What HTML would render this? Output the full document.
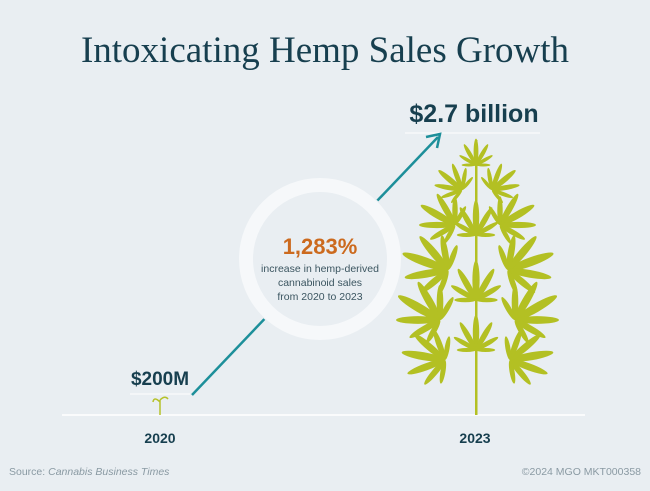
<!DOCTYPE html>
<html><head><style>
body{margin:0;width:650px;height:486px;background:#e9eef2;overflow:hidden;font-family:"Liberation Sans",sans-serif}
</style></head><body>
<svg width="650" height="486" xmlns="http://www.w3.org/2000/svg">
<defs>
<g id="lf">
<ellipse cx="0" cy="-22" rx="4" ry="22"/>
<ellipse cx="0" cy="-20" rx="3.5" ry="20" transform="rotate(-30)"/>
<ellipse cx="0" cy="-20" rx="3.5" ry="20" transform="rotate(30)"/>
<ellipse cx="0" cy="-16" rx="3" ry="16" transform="rotate(-60)"/>
<ellipse cx="0" cy="-16" rx="3" ry="16" transform="rotate(60)"/>
<ellipse cx="0" cy="-12" rx="2.5" ry="12" transform="rotate(-90)"/>
<ellipse cx="0" cy="-12" rx="2.5" ry="12" transform="rotate(90)"/>
</g>
</defs>
<rect width="650" height="486" fill="#e9eef2"/>
<text x="325" y="62" text-anchor="middle" font-family="Liberation Serif,serif" font-size="37" fill="#173f4f">Intoxicating Hemp Sales Growth</text>
<line x1="62" y1="415" x2="585" y2="415" stroke="#fff" stroke-width="1.5"/>
<line x1="130" y1="394" x2="190" y2="394" stroke="#fff" stroke-width="1"/>
<line x1="405" y1="133" x2="540" y2="133" stroke="#fff" stroke-width="1"/>
<line x1="192" y1="395" x2="438" y2="137" stroke="#1d8f9a" stroke-width="2.5"/>
<polyline points="426,137 440,134 437,148" fill="none" stroke="#1d8f9a" stroke-width="2.5"/>
<circle cx="320" cy="259" r="82" fill="#e9eef2"/>
<circle cx="320" cy="259" r="74" fill="none" stroke="#f6f8fa" stroke-width="14"/>
<text x="320" y="254" text-anchor="middle" font-size="22" font-weight="bold" fill="#cc6a1e">1,283%</text>
<text x="320" y="272" text-anchor="middle" font-size="10.5" fill="#3b5560">increase in hemp-derived</text>
<text x="320" y="286" text-anchor="middle" font-size="10.5" fill="#3b5560">cannabinoid sales</text>
<text x="320" y="300" text-anchor="middle" font-size="10.5" fill="#3b5560">from 2020 to 2023</text>
<text x="160" y="385" text-anchor="middle" font-size="19" font-weight="bold" fill="#173f4f">$200M</text>
<text x="474" y="122" text-anchor="middle" font-size="25" font-weight="bold" fill="#173f4f">$2.7 billion</text>
<text x="160" y="443" text-anchor="middle" font-size="14" font-weight="bold" fill="#173f4f">2020</text>
<text x="475" y="443" text-anchor="middle" font-size="14" font-weight="bold" fill="#173f4f">2023</text>
<text x="9" y="475" font-size="10.5" fill="#8a9aa3">Source: <tspan font-style="italic">Cannabis Business Times</tspan></text>
<text x="641" y="475" text-anchor="end" font-size="10.5" fill="#8a9aa3">©2024 MGO  MKT000358</text>
<path d="M160 415 L160 400 M160 402 q-6 -6 -7 0 M160 400 q5 -5 8 -1" stroke="#b6c22a" stroke-width="1.5" fill="none"/>
<g fill="#b3c023" stroke="none">
<rect x="475" y="140" width="2.5" height="275"/>
<use href="#lf" transform="translate(476,165) scale(0.6)"/>
<use href="#lf" transform="translate(462,190) rotate(-50) scale(0.7)"/>
<use href="#lf" transform="translate(492,190) rotate(50) scale(0.7)"/>
<use href="#lf" transform="translate(455,225) rotate(-60) scale(0.9)"/>
<use href="#lf" transform="translate(500,225) rotate(60) scale(0.9)"/>
<use href="#lf" transform="translate(476,235) scale(0.8)"/>
<use href="#lf" transform="translate(448,270) rotate(-70) scale(1.1)"/>
<use href="#lf" transform="translate(508,270) rotate(70) scale(1.1)"/>
<use href="#lf" transform="translate(476,300) scale(0.9)"/>
<use href="#lf" transform="translate(440,320) rotate(-60) scale(1.1)"/>
<use href="#lf" transform="translate(515,320) rotate(60) scale(1.1)"/>
<use href="#lf" transform="translate(445,360) rotate(-80) scale(1)"/>
<use href="#lf" transform="translate(510,360) rotate(80) scale(1)"/>
<use href="#lf" transform="translate(476,350) scale(0.8)"/>
</g>
</svg>
</body></html>
